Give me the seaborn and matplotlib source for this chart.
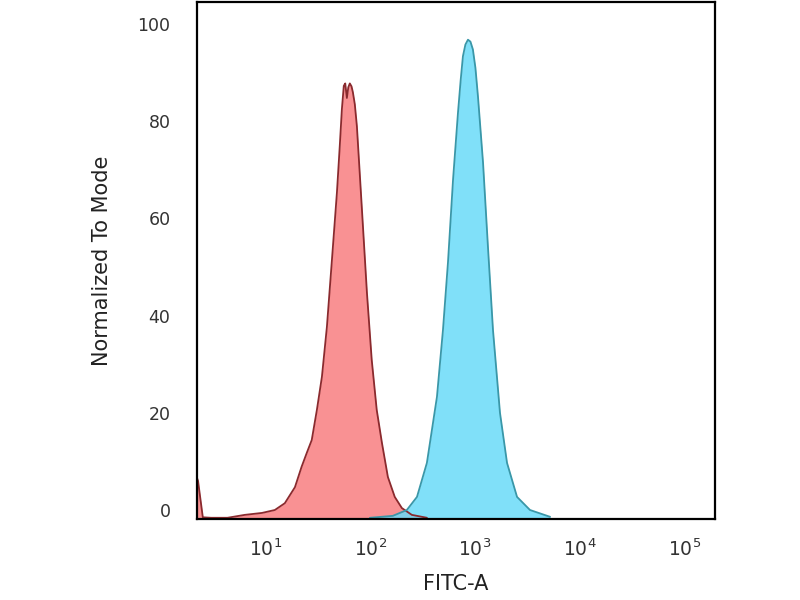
import matplotlib
matplotlib.use("Agg")
import matplotlib.pyplot as plt
import seaborn as sns
import pandas as pd

# isotype control (red) - FITC intensity vs normalized count
red_fitc = [2.2, 2.25, 2.5, 3.0, 4.3, 6.3, 9.2, 12.2, 15.2, 19, 22, 24.6, 27.5, 30.8,
            34.4, 38.4, 42.9, 47.9, 51, 53.4, 55.7, 57.5, 59.6, 61.5, 63.6, 66, 68,
            71, 74.3, 78, 83, 92.7, 103, 115, 129, 147, 171, 200, 249, 347]
red_mode = [6.6, 6.0, -1.5, -1.6, -1.6, -1.0, -0.6, 0.0, 1.4, 4.7, 8.9, 11.7, 14.4, 20.6,
            27.4, 37.7, 51.5, 65.4, 75.0, 82.5, 87.3, 87.8, 84.8, 87.0, 87.8, 87.2, 86.0,
            83.5, 79.0, 71.5, 61.9, 44.7, 30.9, 20.6, 13.8, 6.8, 2.7, 0.4, -1.0, -1.6]

# antibody stained sample (blue)
blue_fitc = [99, 164, 223, 279, 347, 433, 494, 552, 617, 688, 730, 767, 810, 857, 905,
             955, 1010, 1069, 1194, 1332, 1487, 1734, 2025, 2524, 3359, 5222]
blue_mode = [-1.6, -1.2, 0.0, 2.7, 9.7, 23.3, 37.0, 51.0, 68.0, 81.8, 88.5, 93.4, 95.8,
             96.8, 96.4, 94.8, 91.0, 85.0, 71.5, 54.0, 37.0, 20.0, 9.7, 2.7, 0.0, -1.4]

yticks = [0, 20, 40, 60, 80, 100]
xticks = [10, 100, 1000, 10000, 100000]
xtick_labels = ["$10^{1}$", "$10^{2}$", "$10^{3}$", "$10^{4}$", "$10^{5}$"]

df = pd.DataFrame({
    "FITC-A": red_fitc + blue_fitc,
    "mode": red_mode + blue_mode,
    "sample": ["isotype"] * len(red_fitc) + ["stained"] * len(blue_fitc),
})

sns.set_style("white")
plt.rcParams["font.family"] = ["DejaVu Sans"]

fig = plt.figure(figsize=(8, 6), dpi=100)
ax = fig.add_axes([0.246, 0.135, 0.648, 0.862])

ybot = -1.85
fills = {"isotype": "#f97e80", "stained": "#6adbf8"}
lines = {"isotype": "#8a2a2e", "stained": "#3a97a8"}
for name, grp in df.groupby("sample"):
    ax.fill_between(grp["FITC-A"], grp["mode"], ybot, color=fills[name],
                    alpha=0.85, linewidth=0, zorder=1)

sns.lineplot(data=df, x="FITC-A", y="mode", hue="sample", palette=lines,
             sort=False, estimator=None, linewidth=1.3, legend=False, ax=ax, zorder=2)

ax.set_xscale("log")
ax.set_xlim(2.19, 198000)
ax.set_ylim(ybot, 104.6)
ax.set_xticks(xticks)
ax.set_xticklabels(xtick_labels)
ax.minorticks_off()
ax.set_yticks(yticks)
ax.tick_params(axis="both", length=0, labelsize=12.5, colors="#333333")
ax.tick_params(axis="x", pad=14, labelsize=13.5)
ax.tick_params(axis="y", pad=19)

for s in ax.spines.values():
    s.set_color("black")
    s.set_linewidth(1.6)

ax.set_xlabel("FITC-A", fontsize=15, color="#222222", labelpad=10)
ax.set_ylabel("Normalized To Mode", fontsize=15, color="#222222", labelpad=18)

fig.savefig("out.png", dpi=100)
